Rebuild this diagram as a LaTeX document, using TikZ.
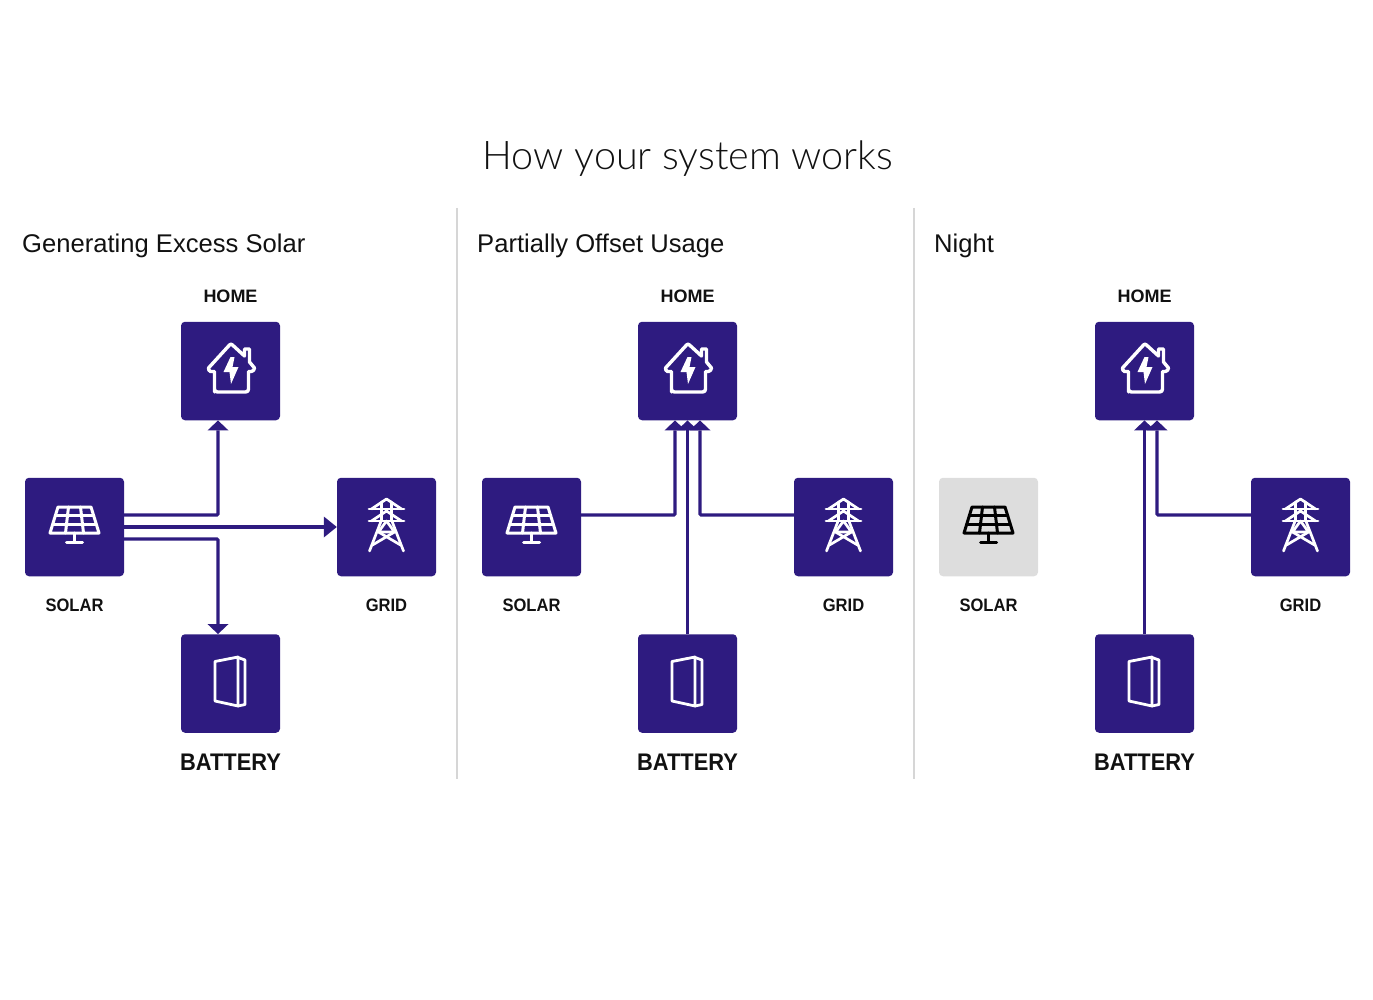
\documentclass[tikz,border=0pt]{standalone}
\usepackage{fontspec}
\setmainfont{Liberation Sans}
\newfontfamily\lightfont{Lato Light}
\usetikzlibrary{arrows.meta}
\definecolor{brand}{HTML}{2E1B80}
\definecolor{idle}{HTML}{DDDDDD}
\definecolor{rule}{HTML}{D6D6D6}
\definecolor{ink}{HTML}{111111}
\tikzset{
  x=1pt,y=-1pt,
  tile/.style={rectangle,draw=none,fill=brand,minimum width=99pt,minimum height=98.5pt,rounded corners=4pt,inner sep=0pt},
  idletile/.style={tile,fill=idle},
  flow/.style={draw=brand,line width=3.1pt,rounded corners=1pt},
  tipv/.style={-{Triangle[length=10pt,width=21pt,line width=0pt]}},
  tiph/.style={-{Triangle[length=13pt,width=21pt,line width=0pt]}},
  small/.style={font=\fontsize{18}{20}\selectfont\bfseries,text=ink,inner sep=0pt,xscale=.92,transform shape},
  homelabel/.style={font=\fontsize{18}{20}\selectfont\bfseries,text=ink,inner sep=0pt},
  big/.style={font=\fontsize{24}{26}\selectfont\bfseries,text=ink,inner sep=0pt,xscale=.91,transform shape},
  head/.style={font=\fontsize{25.6}{30}\selectfont,text=ink,inner sep=0pt,anchor=base west},
  divider/.style={draw=rule,line width=1.6pt},
  icon/.style={line width=3pt,line join=round,line cap=round},
  pics/house/.style={code={
    \draw[icon,white,line width=3.4pt] (-16,21) -- (-16,0.5) -- (-20,0.5) to[bend left=35] (-22,-3) -- (-1,-26) .. controls (0,-27) and (1,-27) .. (2,-26) -- (14,-15) -- (14,-22) -- (19,-22) -- (19,-9) -- (24,-3) to[bend left=35] (21,0.5) -- (18,0.5) -- (18,18) .. controls (18,20) and (17,21) .. (15,21) -- (-13,21) .. controls (-15,21) and (-16,20) .. (-16,18) -- cycle;
    \fill[white] (0,-14) -- (-7,1) -- (-1,1) -- (0.5,13) -- (8,-4) -- (2,-4) -- (4,-14) -- cycle;
  }},
  pics/panel/.style={code={
    \draw[icon,#1] (-16.5,-20) -- (16.5,-20) -- (24.5,6) -- (-24.5,6) -- cycle;
    \draw[icon,#1] (-19.2,-11.3) -- (19.2,-11.3);
    \draw[icon,#1] (-21.8,-2.7) -- (21.8,-2.7);
    \draw[icon,#1] (-6,-20) -- (-9,6);
    \draw[icon,#1] (6,-20) -- (9,6);
    \draw[icon,#1] (0,6) -- (0,15);
    \draw[icon,#1] (-8,15) -- (8,15);
  }},
  pics/tower/.style={code={
    \begin{scope}[icon,white,line width=2.7pt]
    \draw (-17.5,-18) -- (17.5,-18);
    \draw (-17.5,-6) -- (17.5,-6);
    \draw (-15,-18) -- (0,-28) -- (15,-18);
    \draw (-15,-6) -- (0,-16) -- (15,-6);
    \draw (-5,-25) -- (-5,-7) -- (-17,24);
    \draw (5,-25) -- (5,-7) -- (17,24);
    \draw (-8,5) -- (8,5) -- (0,-6) -- cycle;
    \draw (-8,5) -- (14,18);
    \draw (8,5) -- (-14,18);
    \end{scope}
  }},
  pics/battery/.style={code={
    \begin{scope}[icon,white,line width=2.8pt]
    \draw (-15.5,-22) -- (7.5,-26.5) -- (7.5,22.5) -- (-15.5,17.5) -- cycle;
    \draw (7.5,-26) -- (14.5,-23.5) -- (14.5,21) -- (7.5,22.5);
    \end{scope}
  }},
}
\begin{document}
\begin{tikzpicture}
\useasboundingbox (0,0) rectangle (1373,1000);
\node[font=\fontsize{39.5}{46}\selectfont\lightfont,text=ink,inner sep=0pt] (title) at (688,159) {How your system works};
\coordinate (d1a) at (457,208); \coordinate (d1b) at (457,779);
\coordinate (d2a) at (914,208); \coordinate (d2b) at (914,779);
\draw[divider] (d1a) -- (d1b);
\draw[divider] (d2a) -- (d2b);
\node[head] (t1) at (22,253) {Generating Excess Solar};
\node[head] (t2) at (477,253) {Partially Offset Usage};
\node[head] (t3) at (934,253) {Night};
% tiles, panel 1
\node[tile] (h1) at (230.5,371) {};
\node[tile] (s1) at (74.5,527) {};
\node[tile] (g1) at (386.5,527) {};
\node[tile] (b1) at (230.5,683.5) {};
% panel 2
\node[tile] (h2) at (687.5,371) {};
\node[tile] (s2) at (531.5,527) {};
\node[tile] (g2) at (843.5,527) {};
\node[tile] (b2) at (687.5,683.5) {};
% panel 3
\node[tile] (h3) at (1144.5,371) {};
\node[idletile] (s3) at (988.5,527) {};
\node[tile] (g3) at (1300.5,527) {};
\node[tile] (b3) at (1144.5,683.5) {};
% icons
\foreach \n in {1,2,3}{
  \pic at (h\n) {house};
  \pic at (g\n) {tower};
  \pic at (b\n) {battery};
}
\pic at (s1) {panel=white};
\pic at (s2) {panel=white};
\pic at (s3) {panel=black};
% labels
\foreach \n/\sl/\gl/\hl/\bl in {1/solarA/gridA/homeA/batA,2/solarB/gridB/homeB/batB,3/solarC/gridC/homeC/batC}{
  \node[homelabel] (\hl) at ([yshift=75pt]h\n.center) {HOME};
  \node[small] (\sl) at ([yshift=-78pt]s\n.center) {SOLAR};
  \node[small] (\gl) at ([yshift=-78pt]g\n.center) {GRID};
  \node[big] (\bl) at ([yshift=-79pt]b\n.center) {BATTERY};
}
% connectors panel 1
\draw[flow,tipv] ([yshift=12pt]s1.east) -| ([xshift=-12.5pt]h1.south);
\draw[flow,tiph] (s1.east) -- (g1.west);
\draw[flow,tipv] ([yshift=-12pt]s1.east) -| ([xshift=-12.5pt]b1.north);
% connectors panel 2
\draw[flow,tipv] ([yshift=12pt]s2.east) -| ([xshift=-12.5pt]h2.south);
\draw[flow,tipv] ([yshift=12pt]g2.west) -| ([xshift=12.5pt]h2.south);
\draw[flow,tipv] (b2.north) -- (h2.south);
% connectors panel 3
\draw[flow,tipv] (b3.north) -- (h3.south);
\draw[flow,tipv] ([yshift=12pt]g3.west) -| ([xshift=12.5pt]h3.south);
\end{tikzpicture}
\end{document}
